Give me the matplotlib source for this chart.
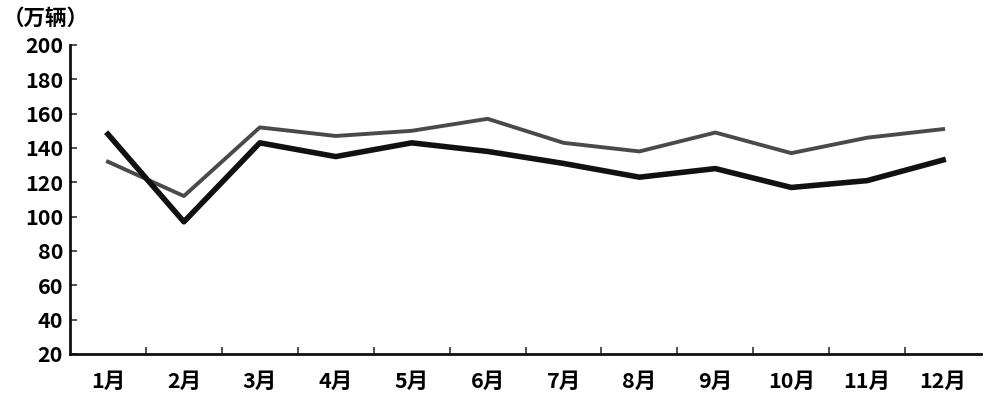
import matplotlib.pyplot as plt

plt.rcParams['font.family'] = ['Noto Sans CJK SC', 'DejaVu Sans']

months = ['1月', '2月', '3月', '4月', '5月', '6月', '7月', '8月', '9月', '10月', '11月', '12月']
black_series = [148, 97, 143, 135, 143, 138, 131, 123, 128, 117, 121, 133]
grey_series = [132, 112, 152, 147, 150, 157, 143, 138, 149, 137, 146, 151]
y_ticks = [20, 40, 60, 80, 100, 120, 140, 160, 180, 200]

fig = plt.figure(figsize=(9.93, 4.09), dpi=100)
ax = fig.add_axes([0.0705, 0.1345, 0.9175, 0.7555])

x = list(range(len(months)))
ax.plot(x, grey_series, color='#4a4a4a', lw=2.8, solid_joinstyle='round')
ax.plot(x, black_series, color='#111111', lw=4.0, solid_joinstyle='round')

ax.set_xlim(-0.5, len(months) - 0.5)
ax.set_ylim(20, 200)
ax.set_yticks(y_ticks)
ax.set_yticklabels([str(v) for v in y_ticks], fontsize=15.5, fontweight='bold')

# category labels centred, tick marks between categories
ax.set_xticks(x)
ax.set_xticklabels(months, fontsize=15.5, fontweight='bold')
ax.tick_params(axis='x', which='major', length=0, pad=12)
ax.set_xticks([i + 0.5 for i in range(len(months) - 1)], minor=True)
ax.tick_params(axis='x', which='minor', length=5, width=1.2, direction='in', color='#333333')
ax.tick_params(axis='y', length=5, width=1.2, direction='in', color='#333333', pad=5)

for side in ['top', 'right']:
    ax.spines[side].set_visible(False)
for side in ['left', 'bottom']:
    ax.spines[side].set_linewidth(2)
    ax.spines[side].set_color('#111111')

fig.text(0.003, 0.955, '（万辆）', fontsize=15.5, fontweight='bold', va='center', ha='left')

plt.savefig('out.png')
